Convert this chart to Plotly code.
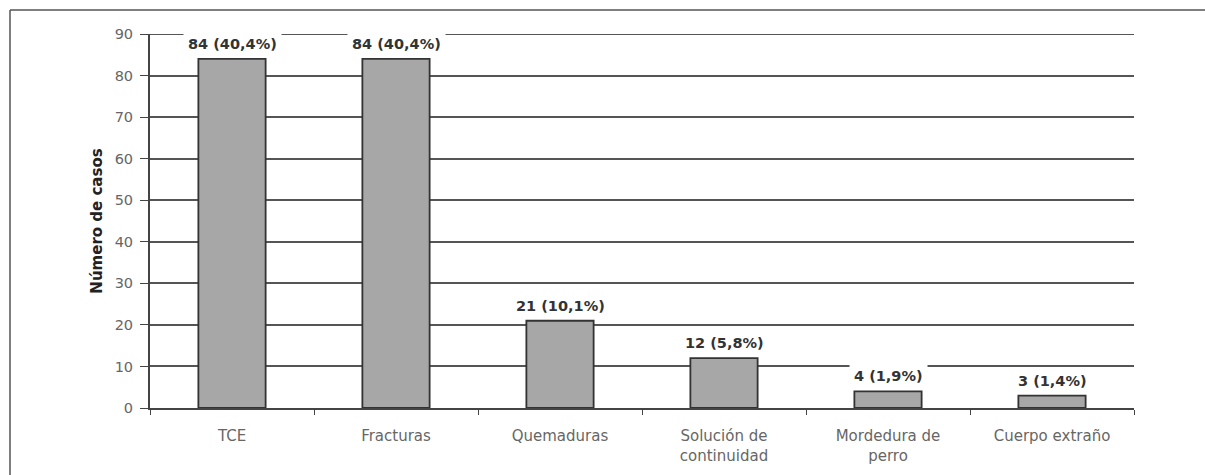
import plotly.graph_objects as go

# Casos por tipo de lesión
categorias = ["TCE", "Fracturas", "Quemaduras", "Solución de<br>continuidad",
              "Mordedura de<br>perro", "Cuerpo extraño"]
casos = [84, 84, 21, 12, 4, 3]
porcentajes = ["40,4%", "40,4%", "10,1%", "5,8%", "1,9%", "1,4%"]
y_ticks = [0, 10, 20, 30, 40, 50, 60, 70, 80, 90]

W, H = 1205, 475
ML, MR, MT, MB = 150, 71, 34, 67
pw = W - ML - MR
ph = H - MT - MB
FONT = "DejaVu Sans, Verdana, sans-serif"

fig = go.Figure()
fig.add_trace(go.Bar(
    x=categorias, y=casos, width=0.41,
    marker=dict(color="#a7a7a7", line=dict(color="#333333", width=1.8)),
    hoverinfo="skip",
))

# línea de cuadrícula superior (y = 90)
fig.add_shape(type="line", xref="paper", yref="y", x0=0, x1=1, y0=90, y1=90,
              layer="below", line=dict(color="#555555", width=2))

for c, v, p in zip(categorias, casos, porcentajes):
    fig.add_annotation(
        x=c, y=v, text=f"<b>{v} ({p})</b>", showarrow=False,
        yanchor="bottom", yshift=2, bgcolor="white", borderpad=4,
        font=dict(family=FONT, size=14.5, color="#333333"),
    )

# marco exterior (izquierda y arriba)
x0 = (10 - ML) / pw
y1 = 1 + (MT - 10) / ph
fig.add_shape(type="line", xref="paper", yref="paper", x0=x0, x1=(W - ML) / pw,
              y0=y1, y1=y1, line=dict(color="#555555", width=1.5))
fig.add_shape(type="line", xref="paper", yref="paper", x0=x0, x1=x0,
              y0=y1, y1=-(MB + 10) / ph, line=dict(color="#555555", width=1.5))

fig.update_layout(
    width=W, height=H,
    margin=dict(l=ML, r=MR, t=MT, b=MB, autoexpand=False),
    paper_bgcolor="white", plot_bgcolor="white",
    showlegend=False,
    font=dict(family=FONT, size=14.5, color="#666666"),
    xaxis=dict(
        automargin=False,
        showline=True, linecolor="#444444", linewidth=2,
        ticks="outside", tickson="boundaries", ticklen=5, tickcolor="#444444",
        showgrid=False, ticklabelstandoff=13,
        tickfont=dict(family=FONT, size=15, color="#666666"),
    ),
    yaxis=dict(
        automargin=False,
        range=[0, 90], tickvals=y_ticks, showline=True, linecolor="#444444",
        linewidth=2, ticks="outside", ticklen=8, tickcolor="#444444",
        showgrid=True, gridcolor="#555555", gridwidth=2, zeroline=False,
        ticklabelstandoff=4,
        tickfont=dict(family=FONT, size=14.5, color="#666666"),
        title=dict(text="<b>Número de casos</b>", standoff=8,
                   font=dict(family=FONT, size=15, color="#222222")),
    ),
)

fig.write_html("out.html")
